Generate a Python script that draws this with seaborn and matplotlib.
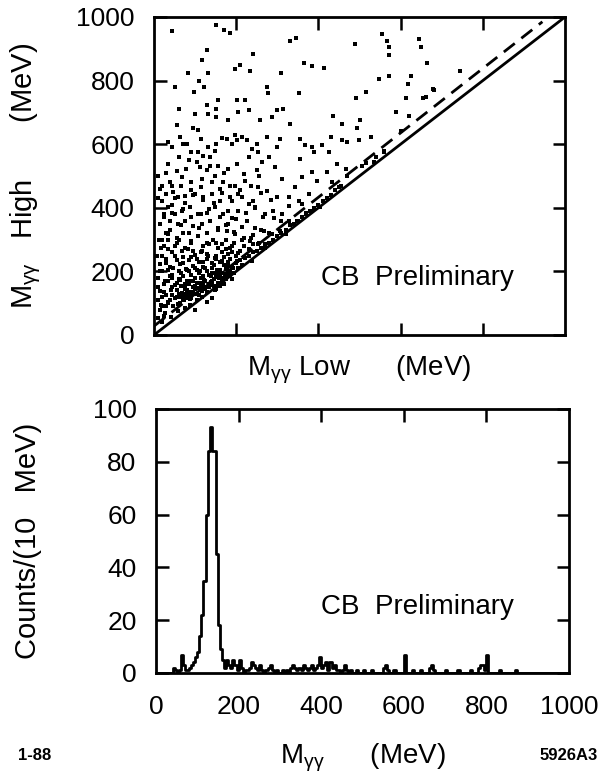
import numpy as np
import pandas as pd
import matplotlib
matplotlib.use("Agg")
import matplotlib.pyplot as plt
import seaborn as sns

# --- scatter data (MeV): low-mass photon pair vs high-mass pair ---
m_low = [
    # sparse upper region
    45, 150, 170, 185, 130, 118, 240, 330, 345, 555, 568, 572, 572, 645, 650, 490, 665, 365, 385, 413,
    210, 197, 234, 310, 82, 110, 132, 122, 52, 98, 548, 572, 625, 617, 745, 275, 278, 352, 515, 680,
    662, 492, 612, 202, 222, 156, 60, 128, 132, 152, 152, 100, 180, 205, 230, 258, 288, 300, 315, 332,
    435, 458, 500, 495, 108, 655, 682,
    # 450 - 650
    34, 63, 71, 91, 108, 120, 132, 136, 148, 177, 197, 201, 214, 226, 275, 307, 356, 368, 385,
    409, 430, 458, 470, 499, 527, 238, 254, 279, 299, 356, 389, 425, 446, 466,
    34, 55, 79, 112, 136, 156, 181, 201, 230, 262, 295, 311, 360, 385, 397, 421, 434, 454,
    67, 91, 116, 148, 168, 197, 222, 254, 275, 299, 328, 352, 377, 344,
    # 300 - 450
    30, 46, 59, 75, 99, 120, 140, 161, 185, 205, 230, 246, 271, 291, 311, 328, 348, 369, 385, 403, 360, 328,
    34, 51, 67, 87, 108, 128, 148, 169, 189, 205, 226, 246, 267, 287, 307, 320,
    38, 59, 75, 95, 116, 136, 156, 177, 197, 218, 234, 254, 271, 181,
    34, 55, 71, 91, 108, 128, 144, 165, 185, 205, 222, 238, 201,
    # 50 - 300
    18, 34, 51, 67, 83, 99, 116, 132, 148, 165, 181, 193,
    14, 30, 46, 63, 79, 95, 112, 124, 140, 156, 169, 185,
    10, 26, 38, 51, 63, 75, 87, 99, 112, 124, 136, 148, 161,
    14, 30, 42, 55, 67, 79, 91, 104, 116, 128, 140,
    18, 34, 46, 63, 75, 87, 99,
    10, 26, 42, 59,
    # chain just above the diagonal
    45, 55, 65, 75, 85, 95, 105, 115, 125, 135, 145, 155, 165, 175, 185, 60, 70, 80, 90, 100,
    110, 120, 130, 140, 150, 160, 170, 180, 190, 200, 210, 220, 230, 240, 250, 260, 270, 280, 290, 300,
    310, 320, 330, 340, 350, 360, 370, 380, 390, 400, 410, 420, 430, 440, 450,
    20, 25, 15, 30, 40, 20, 10, 25, 45, 35, 55, 20, 45, 70, 85, 105, 120, 130, 150, 165,
    175, 190, 150, 120, 90, 60, 30, 15, 25, 45, 10, 20, 45, 10,
    515, 540, 560, 600, 590, 470, 505, 535, 560, 620,
    88, 102, 118, 142, 158, 172, 58, 72, 96, 112, 126, 138, 152, 166, 68, 84, 104, 122, 138, 154,
    # extra fill, 300 - 660
    20, 40, 65, 85, 110, 130, 155, 175, 195, 215, 240, 260, 280,
    25, 45, 70, 90, 115, 135, 160, 180, 200, 225, 245, 265, 290, 310,
    20, 50, 75, 95, 120, 145, 165, 190, 215, 240, 260, 285,
    15, 40, 65, 90, 115, 140, 160, 185, 210, 235, 255,
    30, 60, 85, 105, 130, 170, 220, 250, 45, 80, 115, 150, 165, 190, 250, 95, 55,
    # extra fill, 90 - 300
    20, 30, 40, 50, 60, 70, 80, 90, 100, 110, 120, 130, 140, 150, 160, 170, 180, 190, 200, 210, 220, 230, 240,
    25, 35, 55, 75, 95, 115, 135, 155, 175, 195, 215, 235, 255,
    65, 75, 85, 95, 105, 115, 125, 135, 145, 155, 165, 175, 185, 195, 205, 215,
    50, 60, 70, 80, 90, 100, 110, 120, 130, 140, 150, 160, 170, 180, 190,
    35, 45, 55, 65, 75, 85, 95, 105, 115, 125, 135, 145, 155, 165, 175, 185,
    20, 35, 45, 25, 10, 15, 8, 12,
]
m_high = [
    955, 975, 960, 950, 895, 865, 885, 925, 935, 945, 925, 905, 880, 930, 905, 915, 855, 855, 845, 840,
    850, 835, 830, 825, 825, 800, 825, 780, 780, 765, 805, 815, 815, 790, 830, 780, 760, 760, 765, 775,
    750, 745, 745, 738, 738, 738, 712, 722, 696, 712, 686, 696, 677, 702, 707, 677, 686, 707, 712, 665,
    688, 665, 675, 650, 645, 745, 770,
    607, 622, 601, 575, 575, 564, 591, 559, 580, 617, 628, 612, 622, 612, 622, 617, 617, 596, 591,
    596, 622, 612, 607, 612, 622, 586, 575, 559, 591, 554, 575, 575, 538, 522,
    538, 517, 522, 528, 533, 533, 522, 538, 559, 543, 528, 491, 496, 512, 485, 512, 480, 470,
    496, 480, 491, 501, 480, 470, 485, 464, 454, 433, 433, 422, 443, 464,
    443, 449, 433, 438, 443, 433, 443, 422, 433, 443, 411, 401, 380, 369, 380, 359, 359, 380, 390, 401, 411, 406,
    401, 380, 390, 401, 380, 385, 401, 380, 369, 390, 359, 338, 327, 317, 327, 317,
    359, 348, 359, 343, 348, 359, 338, 327, 317, 306, 295, 285, 274, 348,
    317, 306, 322, 295, 311, 290, 300, 285, 274, 258, 243, 232, 232,
    274, 269, 280, 264, 269, 253, 264, 248, 243, 232, 216, 211,
    222, 227, 211, 222, 206, 216, 200, 211, 195, 190, 179, 190,
    179, 169, 185, 158, 174, 158, 169, 153, 163, 148, 158, 142, 153,
    137, 127, 142, 121, 132, 116, 127, 111, 121, 105, 116,
    95, 105, 90, 100, 84, 95, 79,
    53, 69, 58, 74,
    150, 140, 155, 145, 160, 150, 165, 150, 170, 160, 175, 165, 180, 190, 200, 175, 185, 170, 190, 180,
    195, 185, 200, 210, 195, 205, 220, 230, 215, 225, 235, 245, 250, 260, 265, 275, 285, 290, 300, 310,
    320, 330, 345, 350, 360, 370, 385, 390, 400, 410, 420, 430, 440, 455, 465,
    40, 60, 80, 90, 110, 120, 150, 160, 190, 205, 235, 250, 260, 245, 235, 240, 230, 255, 240, 260,
    270, 280, 290, 280, 290, 300, 320, 350, 380, 410, 430, 470, 470, 500,
    540, 560, 580, 640, 700, 500, 530, 545, 575, 690,
    112, 128, 138, 162, 178, 192, 98, 110, 132, 146, 152, 168, 182, 196, 122, 136, 148, 174, 186, 204,
    300, 330, 345, 320, 335, 320, 330, 345, 325, 340, 315, 330, 320,
    370, 385, 395, 370, 380, 395, 370, 390, 365, 385, 400, 370, 390, 360,
    420, 430, 415, 440, 425, 415, 445, 420, 435, 420, 445, 425,
    460, 480, 470, 455, 465, 480, 460, 470, 455, 470, 500,
    510, 560, 550, 545, 520, 510, 505, 520, 590, 600, 615, 600, 620, 600, 600, 650, 660,
    200, 240, 215, 250, 200, 225, 205, 245, 210, 230, 215, 240, 225, 250, 230, 245, 255, 260, 250, 265, 280, 270, 285,
    280, 300, 290, 275, 265, 260, 285, 275, 300, 290, 300, 305, 290,
    120, 130, 125, 135, 130, 140, 145, 150, 155, 160, 170, 175, 185, 195, 210, 220,
    115, 130, 110, 140, 115, 145, 125, 160, 135, 170, 145, 185, 160, 200, 175,
    170, 180, 165, 195, 160, 200, 170, 205, 180, 210, 190, 220, 200, 230, 210, 240,
    90, 100, 125, 135, 110, 200, 250, 300,
]

diag_x = [0, 1000]
diag_y = [0, 1000]
dash_x = [0, 945]
dash_y = [28, 985]

# --- histogram (5 MeV bins, counts) ---
hist_vals = {
    40: 2, 45: 1, 55: 1, 60: 7, 65: 3, 70: 1, 75: 1, 80: 2, 85: 3, 90: 4, 95: 6,
    100: 8, 105: 14, 110: 22, 115: 35, 120: 60, 125: 84, 130: 93, 135: 84, 140: 84,
    145: 45, 150: 18, 155: 9, 160: 5, 165: 2, 170: 5, 175: 3, 180: 2, 185: 5, 190: 3,
    195: 1, 200: 5, 205: 2, 215: 1, 220: 1, 225: 2, 230: 4, 235: 3, 240: 2, 245: 1,
    250: 3, 255: 1, 265: 1, 270: 2, 275: 3, 280: 1, 290: 1, 305: 1, 315: 1, 325: 2,
    330: 3, 335: 2, 340: 1, 345: 2, 350: 1, 355: 3, 360: 2, 365: 1, 370: 2, 375: 3,
    380: 1, 385: 2, 390: 3, 395: 6, 400: 2, 405: 3, 410: 4, 415: 1, 420: 4, 425: 2,
    430: 3, 435: 1, 440: 1, 450: 1, 455: 3, 460: 1, 470: 1, 485: 1, 500: 1, 520: 1,
    550: 2, 555: 3, 560: 1, 575: 1, 600: 7, 620: 1, 640: 1, 660: 2, 665: 3, 670: 1,
    700: 1, 730: 1, 760: 1, 780: 2, 785: 3, 790: 3, 795: 1, 800: 7, 830: 1, 870: 1,
}
bin_lo = np.arange(0, 1000, 5)
counts = np.array([hist_vals.get(int(b), 0) for b in bin_lo], dtype=float)
hist_df = pd.DataFrame({"mass": bin_lo + 2.5, "counts": counts})

# ==========================================
sns.set_theme(style="ticks")
plt.rcParams['font.family'] = ['Liberation Sans', 'DejaVu Sans']
plt.rcParams['mathtext.fontset'] = 'custom'
plt.rcParams['mathtext.rm'] = 'Liberation Sans'
plt.rcParams['mathtext.it'] = 'Liberation Sans'
for key in ('text.color', 'axes.labelcolor', 'xtick.color', 'ytick.color', 'axes.edgecolor'):
    plt.rcParams[key] = 'black'

fig = plt.figure(figsize=(6.04, 7.77), dpi=100)
ax1 = fig.add_axes([154 / 604, 1 - 335 / 777, 411 / 604, 318 / 777])
ax2 = fig.add_axes([156 / 604, 1 - 673 / 777, 413 / 604, 264 / 777])

tfs = 19   # tick labels
lfs = 20   # axis labels / annotations
gg = r'$_{\mathrm{γγ}}$'

# top: scatter
sns.scatterplot(x=m_low, y=m_high, ax=ax1, marker='s', s=11, color='black',
                linewidth=0, edgecolor=None)
ax1.plot(diag_x, diag_y, color='black', lw=2.0)
ax1.plot(dash_x, dash_y, color='black', lw=2.0, linestyle=(0, (5, 3)))
ax1.set_xlim(0, 1000)
ax1.set_ylim(0, 1000)
ax1.set_xticks([200, 400, 600, 800])
ax1.set_xticklabels([])
ax1.set_yticks([0, 200, 400, 600, 800, 1000])
ax1.tick_params(axis='both', direction='in', length=9, width=1.8, top=True, right=True,
                bottom=True, left=True, labelsize=tfs, pad=14)
ax1.set_xlabel('M' + gg + ' Low      (MeV)', fontsize=lfs)
ax1.set_ylabel('M' + gg + '   High       (MeV)', fontsize=21)
ax1.xaxis.set_label_coords(0.5, -0.06)
ax1.yaxis.set_label_coords(-0.27, 0.5)
ax1.text(642, 179, 'CB  Preliminary', fontsize=lfs, ha='center', va='center')

# bottom: histogram
sns.histplot(data=hist_df, x="mass", weights="counts", binwidth=5, binrange=(0, 1000),
             element='step', fill=False, color='black', linewidth=2.0, ax=ax2)
ax2.set_xlim(0, 1000)
ax2.set_ylim(0, 100)
ax2.set_xticks([0, 200, 400, 600, 800, 1000])
ax2.set_yticks([0, 20, 40, 60, 80, 100])
ax2.tick_params(axis='y', direction='in', length=9, width=1.8, left=True, right=True,
                labelsize=tfs, pad=14)
ax2.tick_params(axis='x', direction='in', length=0, labelsize=tfs, pad=16)
# inward ticks along the top edge
sec = ax2.secondary_xaxis('top')
sec.set_xticks([200, 400, 600, 800])
sec.set_xticklabels([])
sec.tick_params(direction='in', length=9, width=1.8)
sec.spines['top'].set_visible(False)
ax2.set_xlabel('M' + gg + '      (MeV)', fontsize=lfs)
ax2.set_ylabel('Counts/(10   MeV)', fontsize=21)
ax2.xaxis.set_label_coords(0.5, -0.26)
ax2.yaxis.set_label_coords(-0.275, 0.5)
ax2.text(634, 25, 'CB  Preliminary', fontsize=lfs, ha='center', va='center')

for ax in (ax1, ax2):
    for sp in ax.spines.values():
        sp.set_linewidth(2.0)
        sp.set_color('black')
        sp.set_visible(True)

fig.text(18 / 604, 1 - 756 / 777, '1-88', fontsize=12, fontweight='bold', ha='left', va='center')
fig.text(598 / 604, 1 - 756 / 777, '5926A3', fontsize=12, fontweight='bold', ha='right', va='center')

fig.savefig('out.png', dpi=100, facecolor='white')
